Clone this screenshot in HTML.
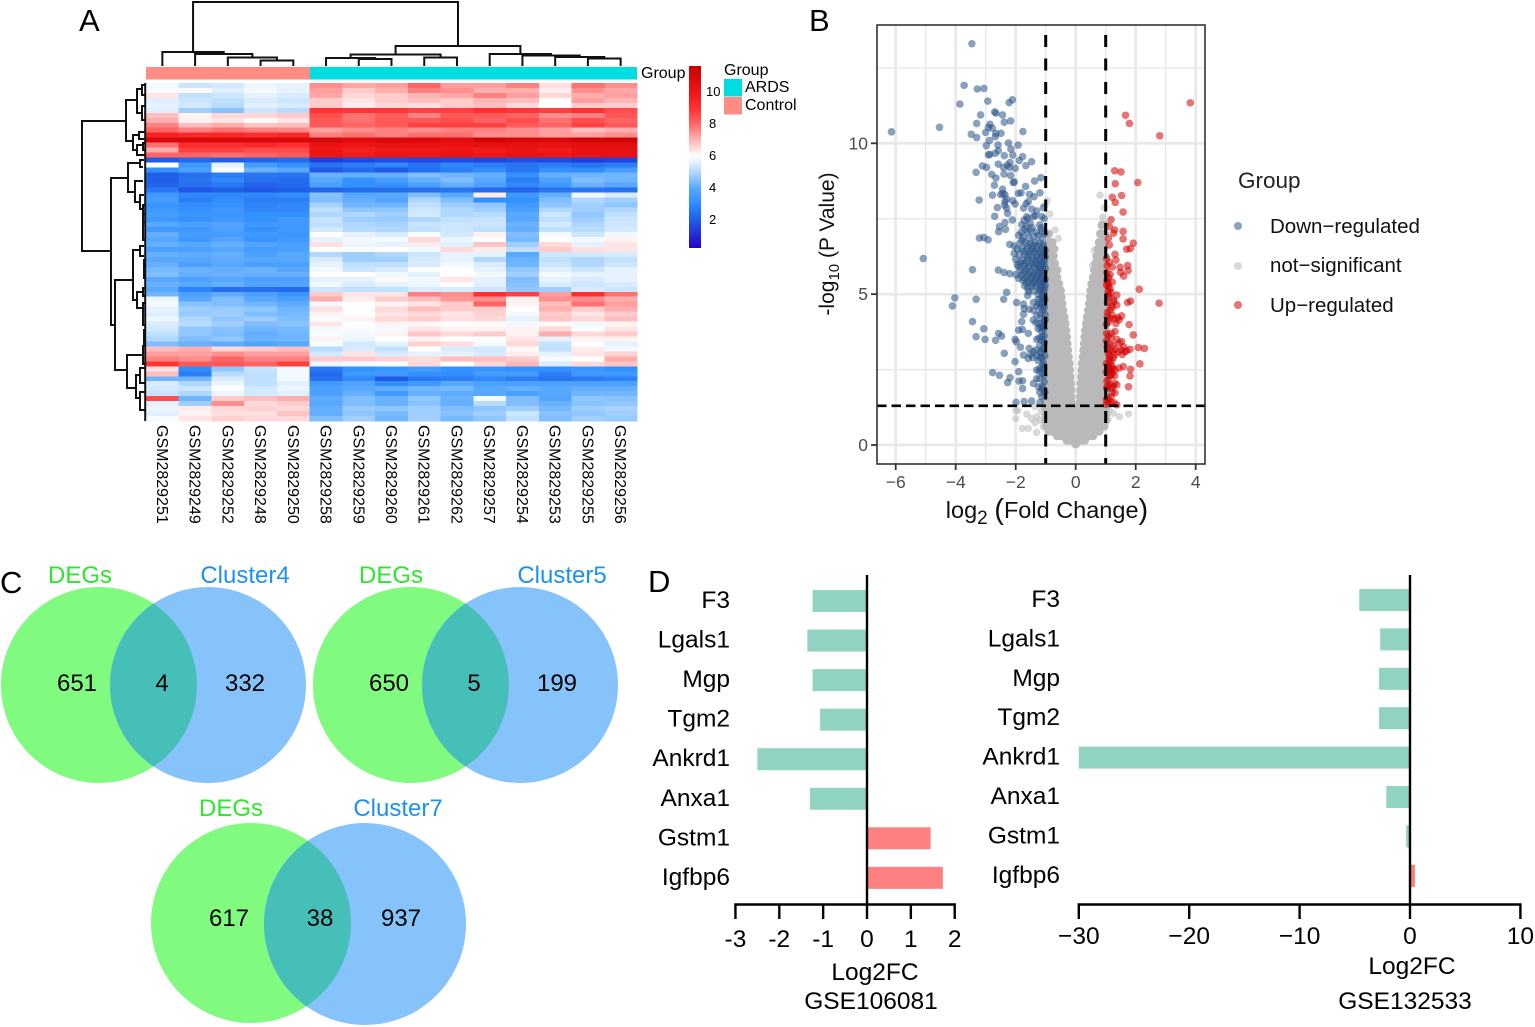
<!DOCTYPE html>
<html lang="en">
<head>
<meta charset="utf-8">
<title>ARDS differential expression figure</title>
<style>
html,body{margin:0;padding:0;background:#fff;}
svg{display:block;font-family:"Liberation Sans",Arial,sans-serif;}
</style>
</head>
<body>
<svg id="fig" xmlns="http://www.w3.org/2000/svg" width="1535" height="1027" viewBox="0 0 1535 1027">
<rect width="1535" height="1027" fill="#fff"/>
<defs>
<linearGradient id="heatGrad" x1="0" y1="1" x2="0" y2="0">
<stop offset="0" stop-color="#2400c8"/>
<stop offset="0.16" stop-color="#2060e8"/>
<stop offset="0.25" stop-color="#3090ff"/>
<stop offset="0.33" stop-color="#5aa8ff"/>
<stop offset="0.42" stop-color="#b8d9ff"/>
<stop offset="0.505" stop-color="#ffffff"/>
<stop offset="0.59" stop-color="#ffb8b8"/>
<stop offset="0.68" stop-color="#ff6868"/>
<stop offset="0.77" stop-color="#ff3030"/>
<stop offset="0.86" stop-color="#ee1515"/>
<stop offset="1" stop-color="#c80000"/>
</linearGradient>
<clipPath id="clipV1"><circle cx="99" cy="685" r="98"/></clipPath>
<clipPath id="clipV2"><circle cx="411" cy="685" r="98"/></clipPath>
<clipPath id="clipV3"><circle cx="251" cy="923" r="100"/></clipPath>
<clipPath id="volcClip"><rect x="877" y="25" width="328" height="439"/></clipPath>
</defs>

<text x="79" y="31" font-size="31">A</text>
<text x="809" y="31" font-size="31">B</text>
<text x="0" y="593" font-size="31">C</text>
<text x="648" y="592" font-size="31">D</text>

<g id="heat">
<rect x="146" y="67" width="164" height="12.5" fill="#fc8d83"/>
<rect x="310" y="67" width="327" height="12.5" fill="#00dde0"/>
<text x="641" y="78" font-size="16">Group</text>
<rect x="689" y="66" width="12" height="182" fill="url(#heatGrad)"/>
<text x="724" y="75" font-size="16">Group</text>
<rect x="724" y="79" width="18" height="17.5" fill="#00dde0"/>
<rect x="724" y="97" width="18" height="17.5" fill="#fc8d83"/>
<text x="745" y="92" font-size="16">ARDS</text>
<text x="745" y="110" font-size="16">Control</text>
</g>

<g id="volcano"></g>

<g>
<text x="1238" y="188" font-size="22.5" fill="#222">Group</text>
<circle cx="1238" cy="226" r="4" fill="#2a5388" fill-opacity="0.55"/>
<circle cx="1238" cy="266" r="4" fill="#b8b8b8" fill-opacity="0.55"/>
<circle cx="1238" cy="305" r="4" fill="#d40000" fill-opacity="0.55"/>
<text x="1270" y="233" font-size="20.5" fill="#111">Down−regulated</text>
<text x="1270" y="272" font-size="20.5" fill="#111">not−significant</text>
<text x="1270" y="312" font-size="20.5" fill="#111">Up−regulated</text>
</g>

<text x="1047" y="518" font-size="23.5" text-anchor="middle" fill="#111">log<tspan dy="6" font-size="19">2</tspan><tspan dy="-6"> </tspan><tspan font-size="29" dy="1">(</tspan><tspan dy="-1">Fold Change</tspan><tspan font-size="29" dy="1">)</tspan></text>
<text transform="translate(834 244) rotate(-90)" font-size="21" text-anchor="middle" fill="#111">-log<tspan dy="5" font-size="15">10</tspan><tspan dy="-5"> (P Value)</tspan></text>

<g>
<circle cx="99" cy="685" r="98" fill="#80fb80"/>
<circle cx="208" cy="685" r="98" fill="#86c3fb"/>
<circle cx="208" cy="685" r="98" fill="#46bfb9" clip-path="url(#clipV1)"/>
<text x="80" y="583" font-size="24" fill="#2ee62e" text-anchor="middle">DEGs</text>
<text x="245" y="583" font-size="24" fill="#1e90f0" text-anchor="middle">Cluster4</text>
<text x="77" y="691" font-size="24" text-anchor="middle">651</text>
<text x="162" y="691" font-size="24" text-anchor="middle">4</text>
<text x="245" y="691" font-size="24" text-anchor="middle">332</text>
</g>
<g>
<circle cx="411" cy="685" r="98" fill="#80fb80"/>
<circle cx="520" cy="685" r="98" fill="#86c3fb"/>
<circle cx="520" cy="685" r="98" fill="#46bfb9" clip-path="url(#clipV2)"/>
<text x="391" y="583" font-size="24" fill="#2ee62e" text-anchor="middle">DEGs</text>
<text x="562" y="583" font-size="24" fill="#1e90f0" text-anchor="middle">Cluster5</text>
<text x="389" y="691" font-size="24" text-anchor="middle">650</text>
<text x="474" y="691" font-size="24" text-anchor="middle">5</text>
<text x="557" y="691" font-size="24" text-anchor="middle">199</text>
</g>
<g>
<circle cx="251" cy="923" r="100" fill="#80fb80"/>
<circle cx="365" cy="924" r="101" fill="#86c3fb"/>
<circle cx="365" cy="924" r="101" fill="#46bfb9" clip-path="url(#clipV3)"/>
<text x="231" y="816" font-size="24" fill="#2ee62e" text-anchor="middle">DEGs</text>
<text x="398" y="816" font-size="24" fill="#1e90f0" text-anchor="middle">Cluster7</text>
<text x="229" y="926" font-size="24" text-anchor="middle">617</text>
<text x="320" y="926" font-size="24" text-anchor="middle">38</text>
<text x="401" y="926" font-size="24" text-anchor="middle">937</text>
</g>

<g id="barsLeft">
<text x="875" y="980" font-size="24.5" text-anchor="middle">Log2FC</text>
<text x="871" y="1009" font-size="24.5" text-anchor="middle">GSE106081</text>
</g>
<g id="barsRight">
<text x="1412" y="974" font-size="24.5" text-anchor="middle">Log2FC</text>
<text x="1405" y="1009" font-size="24.5" text-anchor="middle">GSE132533</text>
</g>
</svg>

<script>
const sampleNames=["GSM2829251","GSM2829249","GSM2829252","GSM2829248","GSM2829250","GSM2829258","GSM2829259","GSM2829260","GSM2829261","GSM2829262","GSM2829257","GSM2829254","GSM2829253","GSM2829255","GSM2829256"];
const colorbarTicks=[2,4,6,8,10];
const heatValues=[
[5.8,5.2,5.3,5.7,5.6,7.6,7.3,7.4,8.2,7.4,7.4,7.8,6.5,8.0,7.6],
[5.9,6.1,5.5,5.8,5.6,7.4,6.8,7.2,7.8,7.6,7.2,7.2,6.3,7.6,7.3],
[6.4,5.0,5.2,5.6,5.4,7.3,6.6,6.8,7.1,7.3,7.8,7.4,6.6,7.2,7.4],
[5.5,5.2,5.0,5.4,5.2,6.8,6.4,6.8,7.0,6.8,7.1,7.0,6.0,7.4,7.1],
[5.6,5.3,4.9,5.5,5.4,6.8,6.3,6.6,6.5,6.8,7.0,6.6,6.0,6.8,6.8],
[5.5,4.6,4.3,5.2,4.9,9.0,9.0,9.0,8.8,8.8,9.2,9.0,8.8,9.1,8.6],
[7.0,6.2,6.6,6.6,6.8,8.6,8.0,8.3,7.8,8.4,8.4,8.2,7.6,7.8,8.4],
[7.2,6.2,6.4,6.1,6.4,8.4,8.0,8.4,8.4,8.6,8.2,8.6,8.0,8.6,8.2],
[7.8,7.0,7.2,6.9,7.0,8.4,8.2,8.4,8.8,8.8,8.8,8.4,8.2,8.8,8.4],
[8.2,7.8,8.0,7.8,7.7,7.4,7.6,7.8,7.6,7.8,7.8,7.6,7.4,7.0,7.2],
[9.6,9.4,9.4,9.2,9.4,7.8,8.0,7.8,8.0,8.0,7.6,7.6,7.4,7.4,7.6],
[10.8,11.0,10.8,10.8,10.8,11.0,10.6,10.8,10.8,10.6,11.2,11.0,10.8,11.2,11.2],
[8.0,9.2,9.2,9.4,9.2,10.2,10.0,10.2,10.2,10.2,10.4,10.4,10.2,10.4,10.4],
[7.2,8.8,8.8,8.6,8.6,10.0,9.6,9.8,9.8,10.0,9.8,10.0,9.8,10.2,10.2],
[8.2,8.2,8.0,8.2,8.4,10.0,9.8,10.0,10.0,10.2,10.0,10.2,10.0,10.2,10.2],
[1.9,2.2,2.0,2.1,2.2,1.3,1.5,1.6,1.5,1.6,1.4,1.6,1.5,1.3,1.4],
[6.0,3.2,5.6,3.3,3.0,2.4,2.6,2.8,2.4,2.8,2.6,2.4,2.6,2.4,2.6],
[3.0,3.4,5.9,3.9,3.6,1.9,2.2,1.9,2.3,2.6,2.9,2.4,3.0,2.9,3.3],
[2.0,2.3,2.6,2.4,2.4,3.9,3.8,3.8,4.2,4.0,3.8,3.0,3.8,4.0,4.0],
[2.0,2.4,2.8,2.3,2.2,3.6,3.0,3.3,3.8,4.2,3.6,2.6,3.4,4.2,4.0],
[2.1,2.3,2.5,2.1,2.2,3.4,3.0,3.0,3.4,3.8,3.4,2.8,3.2,3.9,3.6],
[2.5,1.8,2.0,1.8,2.0,2.1,2.3,2.3,2.3,2.4,2.2,2.1,2.4,2.4,2.3],
[3.2,2.8,2.8,2.8,2.9,4.3,3.6,3.6,4.2,3.6,6.3,3.2,3.8,5.8,5.4],
[3.3,2.6,2.9,2.6,2.6,4.2,3.8,3.5,4.8,4.2,2.9,3.0,4.2,4.8,4.6],
[3.1,2.9,3.0,2.7,2.8,4.7,4.0,4.0,5.0,4.6,4.4,3.2,4.4,4.6,4.4],
[3.2,3.0,3.2,2.8,2.8,5.0,4.4,4.4,5.2,4.8,4.6,3.4,4.8,4.6,4.8],
[3.3,3.1,3.1,3.0,3.0,4.8,4.8,4.6,5.3,4.8,4.9,3.6,5.2,4.4,5.0],
[3.2,3.0,3.2,3.0,3.2,5.1,4.6,4.5,4.8,5.0,5.1,3.6,5.0,4.6,5.2],
[3.6,3.4,3.5,3.2,3.2,5.0,4.8,4.7,5.1,5.2,5.2,3.9,5.3,4.8,5.2],
[3.2,3.2,3.4,3.0,3.2,5.3,4.9,4.8,5.0,5.2,5.0,3.8,5.0,4.9,5.3],
[3.8,3.3,3.3,3.2,3.1,6.0,5.6,5.4,5.9,5.3,6.2,4.2,5.8,5.2,5.8],
[3.6,3.2,3.5,3.1,3.2,5.6,5.8,5.8,6.6,5.7,6.0,4.1,6.0,5.8,6.2],
[3.8,3.6,3.8,3.5,3.4,6.5,5.7,5.6,6.3,5.5,6.9,4.6,6.6,5.6,6.4],
[3.4,3.4,3.6,3.3,3.4,6.0,5.9,6.0,5.8,6.6,6.3,5.0,6.8,6.5,6.4],
[3.8,3.7,3.8,3.4,3.6,4.8,4.6,4.8,5.2,5.6,5.6,3.6,5.2,5.3,5.4],
[3.6,3.6,3.7,3.6,3.6,5.4,4.6,4.6,5.4,5.6,4.8,3.9,5.0,4.8,5.0],
[3.8,3.4,3.6,3.4,3.4,5.6,5.0,5.0,5.4,5.8,5.4,4.0,5.2,4.8,5.2],
[4.1,3.9,3.8,3.9,3.6,5.8,5.2,5.4,6.0,6.0,5.6,4.4,5.5,5.2,5.6],
[4.2,3.8,3.9,3.8,3.8,6.0,6.0,5.8,5.6,6.0,5.8,4.6,5.8,5.6,5.6],
[3.6,3.4,3.6,3.4,3.4,5.6,5.6,6.1,5.8,6.4,5.6,4.2,5.6,5.4,5.6],
[3.9,3.6,3.8,3.5,3.5,5.8,5.4,5.6,5.7,6.0,5.5,4.3,5.4,5.2,5.4],
[3.6,2.7,2.3,2.3,2.2,5.2,5.0,5.0,5.4,5.4,5.2,4.4,4.6,5.4,5.2],
[4.0,3.4,3.7,3.4,3.1,6.8,6.4,6.4,7.8,7.6,9.2,8.8,7.4,9.2,8.0],
[5.7,3.6,4.2,3.6,3.4,7.2,6.3,6.8,7.0,7.5,7.6,6.2,7.6,7.6,7.2],
[5.8,4.3,4.2,4.0,3.7,5.8,6.0,6.2,6.4,6.8,8.2,6.2,7.0,8.0,7.4],
[5.6,4.6,4.5,4.4,4.0,6.5,6.0,6.6,7.0,6.8,6.8,6.0,7.2,6.8,7.2],
[5.5,4.5,4.6,4.2,4.1,6.2,6.0,6.4,6.6,6.4,6.7,5.8,6.8,6.4,6.8],
[5.7,4.8,4.4,4.6,4.2,5.9,6.2,6.6,6.8,6.5,6.6,5.6,6.9,6.6,7.0],
[5.4,4.9,4.6,4.2,4.3,6.4,6.0,6.2,6.1,6.0,6.1,5.8,6.1,5.8,6.2],
[5.3,4.4,4.3,4.0,4.1,5.8,5.9,5.8,6.4,6.2,6.2,6.2,6.6,6.0,6.4],
[5.0,4.4,4.2,3.8,4.0,5.9,5.8,6.2,6.9,6.6,6.8,6.2,7.2,6.6,6.8],
[4.8,4.2,4.4,3.9,4.0,6.2,5.7,6.0,6.2,6.0,6.0,6.4,5.6,6.2,6.2],
[4.2,3.9,3.7,3.5,3.6,5.9,5.3,5.6,6.7,6.5,5.8,6.6,5.1,6.0,5.6],
[7.0,7.2,6.6,6.8,7.0,4.9,5.4,5.0,6.0,5.4,5.3,6.1,5.0,6.3,5.8],
[7.4,7.4,7.6,7.4,7.4,5.3,6.4,5.4,5.6,5.6,5.4,6.3,5.6,6.4,6.7],
[7.8,7.6,8.2,7.8,7.8,6.8,6.8,6.7,6.6,7.0,7.0,6.8,5.9,6.0,7.2],
[9.0,8.4,8.4,8.2,8.8,5.7,5.8,5.9,6.6,6.0,6.6,7.1,5.4,6.6,6.9],
[6.5,2.9,4.4,5.1,5.8,2.5,3.0,3.1,3.3,3.0,3.1,3.0,3.0,3.1,3.0],
[7.0,2.6,4.9,5.0,5.8,2.2,3.2,3.2,3.0,2.9,3.3,3.3,2.6,3.2,3.2],
[4.0,4.0,5.4,5.0,5.8,2.3,2.8,1.9,2.5,2.6,2.8,2.6,2.4,2.5,2.7],
[5.4,4.8,5.7,5.0,5.5,3.2,3.5,2.9,3.2,3.6,3.4,3.4,3.4,3.4,3.4],
[5.3,5.2,6.0,5.3,5.7,3.4,3.6,3.7,4.0,4.1,3.6,3.8,3.6,3.8,3.8],
[5.1,4.8,5.7,5.3,5.5,3.4,3.8,3.2,3.8,3.7,3.6,3.4,3.6,4.0,4.0],
[8.6,4.0,6.8,7.0,7.2,3.7,4.2,3.9,4.4,3.9,5.8,4.2,3.5,4.4,4.3],
[5.6,4.6,7.6,6.6,6.8,3.6,4.2,3.9,4.3,3.8,4.9,4.2,3.9,4.3,4.4],
[5.7,6.3,6.6,6.7,6.6,3.8,4.5,4.4,4.6,4.2,4.4,4.6,4.1,4.6,4.7],
[5.5,6.2,6.5,6.5,6.9,3.8,4.4,4.1,4.6,4.3,4.6,5.2,4.3,4.4,4.6],
[5.9,6.4,6.7,6.6,6.6,4.2,4.6,4.0,4.6,4.1,4.4,5.0,4.2,4.6,4.5]
];
const topDendro=[2,[52,0,[54,1,[57.5,2,[60.5,3,4]]]],[46,[54.5,[58,5,[59,6,7]],[57.5,8,9]],[54,10,[55.5,11,[57,12,[58.5,13,14]]]]]];
const leftBrackets=[
[82,121,126,251,111],[126,100,137,141,133],[137,89,142,113,142],[142,85,145,95,145],[142,106,145,120,145],
[133,135,139,150,137],[139,132,145,139,145],[137,145,143,155,145],[143,143,145,150,145],
[111,178,128,325,115],[128,163,140,192,135],[140,160,144,167,143],[135,181,143,202,140],[140,195,144,209,143],
[143,205,145,222,145],[115,280,133,370,127],[133,250,140,300,137],[140,246,144,256,144],[137,292,143,308,143],
[143,288,145,296,145],[143,303,145,325,145],[127,355,143,388,136],[143,346,145,364,145],[136,375,140,398,140],
[140,368,145,383,145],[140,392,145,410,145],[143,214,145,240,145],[144,260,145,278,145],[144,330,145,344,145]
];

const volXTicks=[-6,-4,-2,0,2,4];
const volXMinor=[-5,-3,-1,1,3];
const volYTicks=[0,5,10];
const volYMinor=[2.5,7.5,12.5];
const volVLines=[-1,1];
const volHLine=1.3;
const upPoints=[[3.82,11.34],[1.66,10.93],[1.79,10.66],[2.8,10.25],[1.3,9.09],[1.51,9.05],[1.32,8.66],[2.07,8.7],[1.22,8.21],[1.53,8.27],[1.32,8.04],[1.58,7.72],[1.18,7.47],[1.3,7.13],[1.58,7.08],[1.12,7.24],[1.26,7.02],[1.58,6.83],[1.92,6.69],[1.7,6.49],[1.82,6.51],[1.09,6.85],[1.12,6.63],[1.31,6.32],[1.34,6.13],[1.03,6.19],[1.48,5.89],[1.73,5.95],[1.05,5.95],[1.12,6.05],[1.5,5.72],[1.6,5.6],[1.75,5.78],[1.04,5.72],[1.1,5.55],[1.22,5.9],[2.12,5.16],[2.78,4.7],[1.83,4.77],[1.73,4.72],[1.37,4.97],[1.09,5.36],[1.09,5.25],[1.03,5.3],[1.15,5.18],[1.26,4.81],[1.37,4.64],[1.14,4.47],[1.53,4.28],[1.34,4.03],[1.78,3.99],[1.92,3.65],[1.31,3.76],[1.03,3.7],[1.37,3.5],[1.53,3.43],[1.14,3.35],[2.09,3.23],[2.29,3.2],[1.81,3.17],[1.64,3.09],[1.42,3.09],[1.09,3.04],[1.26,2.9],[2.14,2.69],[1.83,2.51],[1.59,2.6],[1.81,2.29],[1.14,2.54],[1.31,2.49],[1.09,2.18],[1.37,1.99],[1.76,1.93],[1.2,1.88],[1.31,1.73],[1.09,1.55],[1.37,1.33],[1.03,1.88],[1.06,4.72],[1.12,4.9],[1.2,4.62],[1.05,4.25],[1.22,4.3],[1.4,4.22],[1.1,4.08],[1.08,3.62],[1.18,3.55],[1.25,3.3],[1.45,3.38],[1.6,3.25],[1.7,3.12],[1.05,3.25],[1.12,2.95],[1.3,3.0],[1.55,3.0],[1.02,2.7],[1.12,2.75],[1.2,2.62],[1.02,2.42],[1.22,2.4],[1.45,2.55],[1.15,2.3],[1.04,2.12],[1.3,2.05],[1.22,1.75],[1.02,1.5],[1.18,1.42],[1.28,1.4],[1.02,1.35],[1.08,5.1],[1.18,5.05],[1.28,4.75],[1.22,4.55],[1.06,4.4],[1.15,4.2],[1.3,4.18],[1.02,4.0],[1.45,4.15],[1.2,3.7],[1.02,3.45],[1.12,3.15],[1.22,3.1],[1.32,3.18],[1.52,3.15],[1.12,2.85],[1.2,2.8],[1.08,2.6],[1.16,2.5],[1.24,2.55],[1.1,2.42],[1.2,2.32],[1.3,2.3],[1.06,1.95],[1.15,2.0],[1.25,1.95],[1.18,1.6],[1.08,1.42],[1.22,5.4],[1.15,5.65],[1.04,5.45],[1.1,4.98]];
const downPoints=[[-3.46,13.3],[-3.72,11.92],[-3.28,11.8],[-3.06,11.82],[-3.86,11.3],[-2.93,11.4],[-2.22,11.35],[-2.11,11.44],[-2.7,11.04],[-2.66,11.0],[-3.17,10.94],[-2.44,10.94],[-2.17,10.74],[-2.38,10.7],[-3.3,10.66],[-2.86,10.63],[-2.91,10.53],[-2.78,10.5],[-6.14,10.38],[-4.54,10.53],[-3.48,10.3],[-3.3,10.19],[-3.0,10.36],[-2.66,10.33],[-2.49,10.33],[-2.68,10.22],[-1.76,10.39],[-2.88,10.09],[-2.24,10.01],[-1.92,9.94],[-2.98,9.92],[-2.59,9.94],[-2.58,9.76],[-2.16,9.81],[-2.91,9.62],[-2.86,9.63],[-2.68,9.67],[-2.38,9.59],[-2.1,9.61],[-1.77,9.56],[-1.88,9.43],[-1.47,9.39],[-2.58,9.31],[-2.19,9.36],[-2.41,9.2],[-2.21,9.2],[-2.02,9.17],[-1.66,9.26],[-3.11,9.25],[-2.97,9.2],[-3.32,9.04],[-2.8,8.97],[-2.66,8.85],[-2.39,8.98],[-2.17,8.93],[-2.28,9.28],[-2.08,8.7],[-2.05,8.72],[-2.71,8.61],[-1.67,8.57],[-1.37,8.75],[-1.16,8.86],[-2.44,8.48],[-2.5,8.3],[-2.77,8.28],[-2.43,8.34],[-2.36,8.3],[-1.91,8.34],[-1.82,8.36],[-1.54,8.31],[-1.19,8.36],[-3.22,8.12],[-2.36,8.07],[-2.3,8.15],[-2.02,7.99],[-2.1,8.1],[-1.58,8.07],[-1.39,8.23],[-1.65,8.0],[-2.61,7.87],[-2.3,7.85],[-1.74,7.85],[-1.47,7.82],[-1.3,7.76],[-1.08,7.87],[-2.7,7.58],[-2.27,7.68],[-2.37,7.95],[-2.11,7.46],[-1.13,7.57],[-1.63,7.57],[-1.41,7.57],[-2.36,7.37],[-2.54,7.24],[-2.34,7.15],[-2.57,7.07],[-3.21,6.86],[-3.06,6.88],[-2.92,6.8],[-5.08,6.18],[-3.44,5.81],[-2.58,5.8],[-2.39,5.72],[-2.2,5.68],[-4.03,4.88],[-4.11,4.61],[-3.32,4.83],[-2.3,5.06],[-2.4,4.83],[-3.44,4.09],[-3.06,3.85],[-3.32,3.59],[-3.02,3.5],[-2.67,3.47],[-2.57,3.7],[-2.47,3.61],[-2.02,3.5],[-1.98,3.42],[-2.38,3.04],[-2.02,2.76],[-2.77,2.4],[-2.54,2.31],[-2.19,2.23],[-2.27,2.07],[-1.9,2.43],[-1.89,2.12],[-1.77,2.13],[-1.77,1.87],[-1.99,1.41],[-1.72,1.44],[-1.47,1.46],[-1.19,1.41],[-1.41,2.04],[-1.24,1.93],[-1.06,2.32],[-1.13,1.6],[-1.97,4.72],[-1.74,4.67],[-1.41,4.72],[-1.74,4.33],[-1.8,4.09],[-1.9,3.81],[-1.78,3.83],[-1.58,3.7],[-1.3,3.5],[-1.84,3.24],[-1.74,2.98],[-1.58,2.87],[-1.41,3.09],[-1.43,2.9],[-1.13,2.9],[-1.3,2.49],[-1.19,2.54],[-1.13,3.48],[-1.13,3.76],[-1.08,3.92],[-1.41,4.47],[-1.19,4.36],[-1.41,4.14],[-1.13,4.7],[-1.05,4.12],[-1.22,4.02],[-1.3,4.3],[-1.55,4.5],[-1.72,4.52],[-1.26,4.82],[-1.6,4.95],[-1.05,5.05],[-1.2,5.1],[-1.1,4.45],[-1.05,3.62],[-1.2,3.3],[-1.08,3.2],[-1.32,3.15],[-1.55,3.2],[-1.5,3.0],[-1.08,2.72],[-1.25,2.8],[-1.05,2.1],[-1.2,2.2],[-1.8,7.3],[-1.72,7.45],[-1.6,7.5],[-1.52,7.35],[-1.45,7.2],[-1.7,7.15],[-1.82,7.05],[-1.6,7.05],[-1.35,7.6],[-1.2,7.3],[-1.12,7.1],[-1.05,7.5],[-1.75,6.9],[-1.55,6.85],[-1.4,6.9],[-1.25,6.95],[-1.12,6.85],[-1.03,7.0],[-1.85,6.7],[-1.68,6.7],[-1.5,6.68],[-1.35,6.72],[-1.2,6.7],[-1.08,6.65],[-2.2,6.65],[-2.05,6.6],[-1.95,6.5],[-1.8,6.5],[-1.62,6.48],[-1.45,6.5],[-1.3,6.5],[-1.15,6.5],[-1.02,6.45],[-2.05,6.35],[-1.88,6.3],[-1.7,6.3],[-1.55,6.3],[-1.28,6.32],[-1.12,6.3],[-1.02,6.25],[-2.0,6.15],[-1.78,6.12],[-1.62,6.1],[-1.38,6.12],[-1.22,6.12],[-1.08,6.08],[-1.95,5.98],[-1.72,5.95],[-1.55,5.92],[-1.42,5.98],[-1.25,5.95],[-1.12,5.9],[-1.02,5.85],[-1.85,5.8],[-1.68,5.78],[-1.5,5.75],[-1.32,5.78],[-1.18,5.75],[-1.06,5.7],[-2.0,5.65],[-1.82,5.62],[-1.62,5.6],[-1.45,5.58],[-1.28,5.6],[-1.12,5.55],[-1.02,5.5],[-1.75,5.45],[-1.55,5.42],[-1.38,5.42],[-1.22,5.42],[-1.08,5.38],[-1.7,5.28],[-1.6,5.2],[-1.48,5.25],[-1.32,5.26],[-1.15,5.24],[-1.04,5.2],[-1.58,5.08],[-1.42,5.1],[-1.25,5.0],[-1.1,4.95],[-1.03,4.82],[-1.18,4.58],[-1.05,4.55],[-1.3,4.6],[-1.02,4.32],[-1.15,4.2],[-1.32,4.05],[-1.12,3.95],[-1.25,3.85],[-1.05,3.4],[-1.03,2.95],[-1.18,3.05],[-1.06,2.55],[-1.12,2.38],[-1.03,1.75],[-1.9,6.95],[-1.65,7.25],[-1.5,7.1],[-1.3,7.05],[-1.15,7.2],[-1.78,6.78],[-1.6,6.6],[-1.42,6.62],[-1.28,6.6],[-1.1,6.58],[-1.72,6.42],[-1.5,6.42],[-1.38,6.4],[-1.18,6.38],[-1.06,6.38],[-1.6,6.22],[-1.45,6.22],[-1.3,6.22],[-1.15,6.2],[-1.04,6.15],[-1.85,6.05],[-1.7,6.02],[-1.48,6.05],[-1.3,6.02],[-1.16,6.0],[-1.05,5.98],[-1.9,5.9],[-1.62,5.85],[-1.38,5.88],[-1.2,5.85],[-1.1,5.8],[-1.75,5.7],[-1.55,5.68],[-1.4,5.68],[-1.25,5.68],[-1.1,5.65],[-1.9,5.52],[-1.68,5.52],[-1.48,5.5],[-1.32,5.5],[-1.18,5.5],[-1.05,5.45],[-1.65,5.38],[-1.45,5.35],[-1.28,5.33],[-1.12,5.32],[-1.02,5.3],[-1.2,5.15],[-1.08,5.12],[-1.15,4.85],[-1.05,4.88],[-1.22,4.7],[-1.08,4.62],[-1.02,4.15],[-1.18,3.9],[-1.06,3.85],[-1.12,3.6],[-1.22,3.55],[-1.14,3.12],[-1.28,2.95],[-1.18,2.9],[-1.1,2.65],[-1.22,2.45],[-1.3,2.2],[-1.12,1.95],[-1.2,1.75],[-1.12,1.85]];
const nsOutliers=[[-1.93,1.14],[-2,0.88],[-1.78,0.55],[-1.58,0.55],[-1.63,1.02],[-1.36,1.27],[-1.47,0.88],[-1.3,0.94],[-1.36,0.74],[-1.3,0.42],[-1.15,1.12],[-1.18,0.82],[-1.08,0.6],[-2.0,1.15],[1.76,1.03],[1.46,0.94],[1.26,1.05],[1.12,1.15],[1.08,0.85],[0.81,8.28],[0.95,7.87],[0.9,7.55],[0.84,7.25],[-0.86,7.66],[-0.95,8.1],[-0.69,7.13],[-0.58,6.85],[-1.02,7.95],[-0.92,6.95],[0.62,6.45],[0.68,6.15],[0.56,5.95]];
const nsRows=[
[0.03,[0]],
[0.15,[-0.3,-0.18,-0.06,0.06,0.18,0.3]],
[0.3,[-0.62,-0.5,-0.38,-0.26,-0.14,-0.02,0.1,0.22,0.34,0.46,0.58]],
[0.45,[-0.9,-0.78,-0.66,-0.54,-0.42,-0.3,-0.18,-0.06,0.06,0.18,0.3,0.42,0.54,0.66,0.78]],
[0.62,[-0.98,-0.85,-0.72,-0.6,-0.46,-0.32,-0.2,-0.08,0.08,0.2,0.32,0.46,0.6,0.72,0.85,0.95]],
[0.8,[-1.0,-0.86,-0.72,-0.58,-0.44,-0.3,-0.16,0,0.16,0.3,0.44,0.58,0.72,0.86,1.0]],
[1.0,[-1.0,-0.86,-0.72,-0.58,-0.44,-0.3,-0.18,-0.08,0.08,0.18,0.3,0.44,0.58,0.72,0.86,1.0]],
[1.2,[-1.0,-0.86,-0.72,-0.58,-0.44,-0.3,-0.14,0,0.14,0.3,0.44,0.58,0.72,0.86,1.0]],
[1.4,[-1.0,-0.86,-0.72,-0.58,-0.44,-0.3,-0.14,0.14,0.3,0.44,0.58,0.72,0.86,1.0]],
[1.6,[-1.0,-0.86,-0.72,-0.58,-0.44,-0.3,-0.15,0.15,0.3,0.44,0.58,0.72,0.86,1.0]],
[1.82,[-1.0,-0.86,-0.72,-0.58,-0.44,-0.3,-0.16,0.16,0.3,0.44,0.58,0.72,0.86,1.0]],
[2.04,[-1.0,-0.86,-0.72,-0.58,-0.44,-0.3,-0.17,0.17,0.3,0.44,0.58,0.72,0.86,1.0]],
[2.26,[-1.0,-0.86,-0.72,-0.58,-0.44,-0.3,-0.19,0.19,0.3,0.44,0.58,0.72,0.86,1.0]],
[2.48,[-1.0,-0.86,-0.72,-0.58,-0.44,-0.31,-0.2,0.2,0.31,0.44,0.58,0.72,0.86,1.0]],
[2.7,[-1.0,-0.86,-0.72,-0.58,-0.44,-0.32,-0.21,0.21,0.32,0.44,0.58,0.72,0.86,1.0]],
[2.92,[-1.0,-0.86,-0.72,-0.58,-0.46,-0.35,-0.24,0.24,0.35,0.46,0.58,0.72,0.86,1.0]],
[3.14,[-1.0,-0.86,-0.72,-0.6,-0.48,-0.37,-0.26,0.26,0.37,0.48,0.6,0.72,0.86,1.0]],
[3.36,[-1.0,-0.86,-0.72,-0.6,-0.48,-0.38,-0.28,0.28,0.38,0.48,0.6,0.72,0.86,1.0]],
[3.58,[-1.0,-0.86,-0.72,-0.6,-0.5,-0.4,-0.3,0.3,0.4,0.5,0.6,0.72,0.86,1.0]],
[3.8,[-1.0,-0.86,-0.72,-0.6,-0.5,-0.41,-0.32,0.32,0.41,0.5,0.6,0.72,0.86,1.0]],
[4.02,[-1.0,-0.86,-0.74,-0.62,-0.5,-0.35,0.35,0.5,0.62,0.74,0.86,1.0]],
[4.24,[-1.0,-0.86,-0.74,-0.62,-0.5,-0.38,0.38,0.5,0.62,0.74,0.86,1.0]],
[4.46,[-1.0,-0.86,-0.74,-0.64,-0.54,-0.42,0.42,0.54,0.64,0.74,0.86,1.0]],
[4.68,[-1.0,-0.86,-0.74,-0.64,-0.54,-0.45,0.45,0.54,0.64,0.74,0.86,1.0]],
[4.9,[-1.0,-0.86,-0.74,-0.64,-0.55,-0.48,0.48,0.55,0.64,0.74,0.86,1.0]],
[5.12,[-1.0,-0.88,-0.76,-0.66,-0.56,-0.5,0.5,0.56,0.66,0.76,0.88,1.0]],
[5.34,[-1.0,-0.88,-0.76,-0.66,-0.56,0.53,0.6,0.7,0.8,0.9,1.0]],
[5.56,[-0.98,-0.86,-0.74,-0.62,0.58,0.66,0.78,0.9,1.0]],
[5.8,[-0.96,-0.84,-0.7,-0.62,0.62,0.7,0.84,0.96]],
[6.02,[-0.95,-0.82,-0.7,0.66,0.74,0.84,0.96]],
[6.26,[-0.96,-0.86,-0.74,0.7,0.78,0.88,0.98]],
[6.5,[-0.95,-0.84,-0.72,0.74,0.84,0.94]],
[6.72,[-0.9,-0.78,0.78,0.86,0.94]],
[7.0,[-0.9,0.82,0.9,0.97]],
[7.3,[0.88,0.98]]
];

const geneLabels=["F3","Lgals1","Mgp","Tgm2","Ankrd1","Anxa1","Gstm1","Igfbp6"];
const fcGse106081=[-1.24,-1.36,-1.24,-1.07,-2.5,-1.3,1.45,1.73];
const fcGse132533=[-4.6,-2.7,-2.8,-2.8,-30,-2.15,-0.35,0.45];
const ticksGse106081=[-3,-2,-1,0,1,2];
const ticksGse132533=[-30,-20,-10,0,10];

const NS='http://www.w3.org/2000/svg';
function make(tag,attrs,parent,txt){
  const el=document.createElementNS(NS,tag);
  for(const k in attrs) el.setAttribute(k,attrs[k]);
  if(txt!==undefined) el.textContent=txt;
  parent.appendChild(el);
  return el;
}

/* panel A: heatmap */
const heatG=document.getElementById('heat');
const hx0=146,hx1=637,hy0=83,hy1=421;
const colW=(hx1-hx0)/sampleNames.length;
const rowH=(hy1-hy0)/heatValues.length;
const colX=i=>hx0+colW*i;
const colC=i=>hx0+colW*(i+0.5);
const rowY=i=>hy0+rowH*i;
const colorStops=[[0,[36,0,200]],[2,[32,96,232]],[3,[52,146,255]],[4,[112,182,255]],[5,[192,224,255]],[6,[255,255,255]],[7,[255,190,190]],[8,[255,112,112]],[9,[255,52,52]],[10,[238,21,21]],[11.6,[200,0,0]]];
function heatColor(v){
  for(let i=1;i<colorStops.length;i++){
    if(v<=colorStops[i][0]){
      const a=colorStops[i-1],b=colorStops[i],t=(v-a[0])/(b[0]-a[0]);
      return 'rgb('+a[1].map((c,k)=>Math.round(c+(b[1][k]-c)*t)).join(',')+')';
    }
  }
  return 'rgb(200,0,0)';
}
heatValues.forEach((row,r)=>{
  row.forEach((v,c)=>{
    const cell=make('rect',{x:colX(c),y:rowY(r),width:colW+0.4,height:rowH+0.4,fill:heatColor(v),'shape-rendering':'crispEdges'},heatG);
    
    
  });
});
sampleNames.forEach((s,i)=>{
  const lab=make('text',{transform:'translate('+(colC(i)-5.5)+' 425) rotate(90)','font-size':16},heatG,s);
  
  
});
const cbY=v=>155.5-(v-6)*15.95;
colorbarTicks.forEach(v=>{
  const t=make('text',{x:v>=10?706:709,y:cbY(v)+4.5,'font-size':13},heatG,v);
  
  
});
function drawTop(n){
  if(typeof n==='number') return {x:colC(n),y:66};
  const a=drawTop(n[1]),b=drawTop(n[2]),h=n[0];
  const p=make('path',{d:'M'+a.x+' '+a.y+'V'+h+'H'+b.x+'V'+b.y,fill:'none',stroke:'#111','stroke-width':2},heatG);
  
  
  return {x:(a.x+b.x)/2,y:h};
}
drawTop(topDendro);
leftBrackets.forEach(b=>{
  const p=make('path',{d:'M'+b[2]+' '+b[1]+'H'+b[0]+'V'+b[3]+'H'+b[4],fill:'none',stroke:'#111','stroke-width':2},heatG);
  
  
});
const rowSpine=make('line',{x1:145.2,x2:145.2,y1:hy0,y2:hy1,stroke:'#111','stroke-width':2},heatG);



/* panel B: volcano */
const vg=document.getElementById('volcano');
const vx=v=>1075.7+30*v;
const vy=v=>445-30.17*v;
const pL=877,pR=1205,pT=25,pB=464;
function gridLine(x1,y1,x2,y2,w,name){
  const g=make('line',{x1,y1,x2,y2,stroke:'#e9e9e9','stroke-width':w},vg);
  
  
}
volXMinor.forEach(v=>gridLine(vx(v),pT,vx(v),pB,1.5,'grid-minor-x'));
volYMinor.forEach(v=>gridLine(pL,vy(v),pR,vy(v),1.5,'grid-minor-y'));
volXTicks.forEach(v=>gridLine(vx(v),pT,vx(v),pB,2.8,'grid-major-x'));
volYTicks.forEach(v=>gridLine(pL,vy(v),pR,vy(v),2.8,'grid-major-y'));
const pts=make('g',{'clip-path':'url(#volcClip)'},vg);


function dot(x,y,fill,op,rad,name){
  const c=make('circle',{cx:vx(x),cy:vy(y),r:rad,fill,'fill-opacity':op},pts);
  
  
}
nsOutliers.forEach(p=>dot(p[0],p[1],'#b9b9b9',0.55,3.7,'point-not-significant'));
nsRows.forEach(r=>r[1].forEach(x=>dot(x,r[0],'#b9b9b9',1,4.3,'point-not-significant')));
downPoints.forEach(p=>dot(p[0],p[1],'#2a5388',0.55,3.8,'point-down-regulated'));
upPoints.forEach(p=>dot(p[0],p[1],'#d40000',0.55,3.8,'point-up-regulated'));
volVLines.forEach(v=>{
  const l=make('line',{x1:vx(v),x2:vx(v),y1:35,y2:pB,stroke:'#000','stroke-width':3,'stroke-dasharray':'12 11.5'},vg);
  
  
});
const hLine=make('line',{x1:pL,x2:pR,y1:vy(volHLine),y2:vy(volHLine),stroke:'#000','stroke-width':2.6,'stroke-dasharray':'9.5 5'},vg);


const frame=make('rect',{x:pL,y:pT,width:pR-pL,height:pB-pT,fill:'none',stroke:'#333','stroke-width':1.6},vg);


volXTicks.forEach(v=>{
  const t=make('line',{x1:vx(v),x2:vx(v),y1:pB,y2:pB+6,stroke:'#333','stroke-width':1.8},vg);
  
  
  const l=make('text',{x:vx(v),y:488,'font-size':17.5,'text-anchor':'middle',fill:'#4d4d4d'},vg,String(v).replace('-','−'));
  
  
});
volYTicks.forEach(v=>{
  const t=make('line',{x1:pL-6,x2:pL,y1:vy(v),y2:vy(v),stroke:'#333','stroke-width':1.8},vg);
  
  
  const l=make('text',{x:868,y:vy(v)+6,'font-size':17.5,'text-anchor':'end',fill:'#4d4d4d'},vg,v);
  
  
});

/* panel D: bars */
function drawBars(gId,values,ticks,xFn,labelX,rowsY,minusGlyph,tickLabelY){
  const axisY=904.5,topY=575;
  const g=document.getElementById(gId);
  values.forEach((v,i)=>{
    const x0=xFn(0),x1=xFn(v);
    const b=make('rect',{x:Math.min(x0,x1),y:rowsY(i)-11,width:Math.abs(x1-x0),height:22,fill:v<0?'#90d3c0':'#ff8080'},g);
    
    
    const l=make('text',{x:labelX,y:rowsY(i)+7,'font-size':24.5,'text-anchor':'end'},g,geneLabels[i]);
    
    
  });
  const zero=make('line',{x1:xFn(0),x2:xFn(0),y1:topY,y2:axisY,stroke:'#000','stroke-width':2.4},g);
  
  
  const ax=make('line',{x1:xFn(ticks[0])-1.2,x2:xFn(ticks[ticks.length-1])+1.2,y1:axisY,y2:axisY,stroke:'#000','stroke-width':2.4},g);
  
  
  ticks.forEach(t=>{
    const tk=make('line',{x1:xFn(t),x2:xFn(t),y1:axisY,y2:axisY+14.5,stroke:'#000','stroke-width':2.4},g);
    
    
    const s=minusGlyph?String(t).replace('-','−'):String(t);
    const tl=make('text',{x:xFn(t),y:tickLabelY,'font-size':24.5,'text-anchor':'middle'},g,s);
    
    
  });
}
const xLeft=v=>867+v*43.85;
const xRight=v=>1410+v*11.04;
const leftRowY=i=>601+i*39.55;
const rightRowY=i=>600+i*39.4;
drawBars('barsLeft',fcGse106081,ticksGse106081,xLeft,730,leftRowY,false,947);
drawBars('barsRight',fcGse132533,ticksGse132533,xRight,1060,rightRowY,true,944);
</script>
</body>
</html>
